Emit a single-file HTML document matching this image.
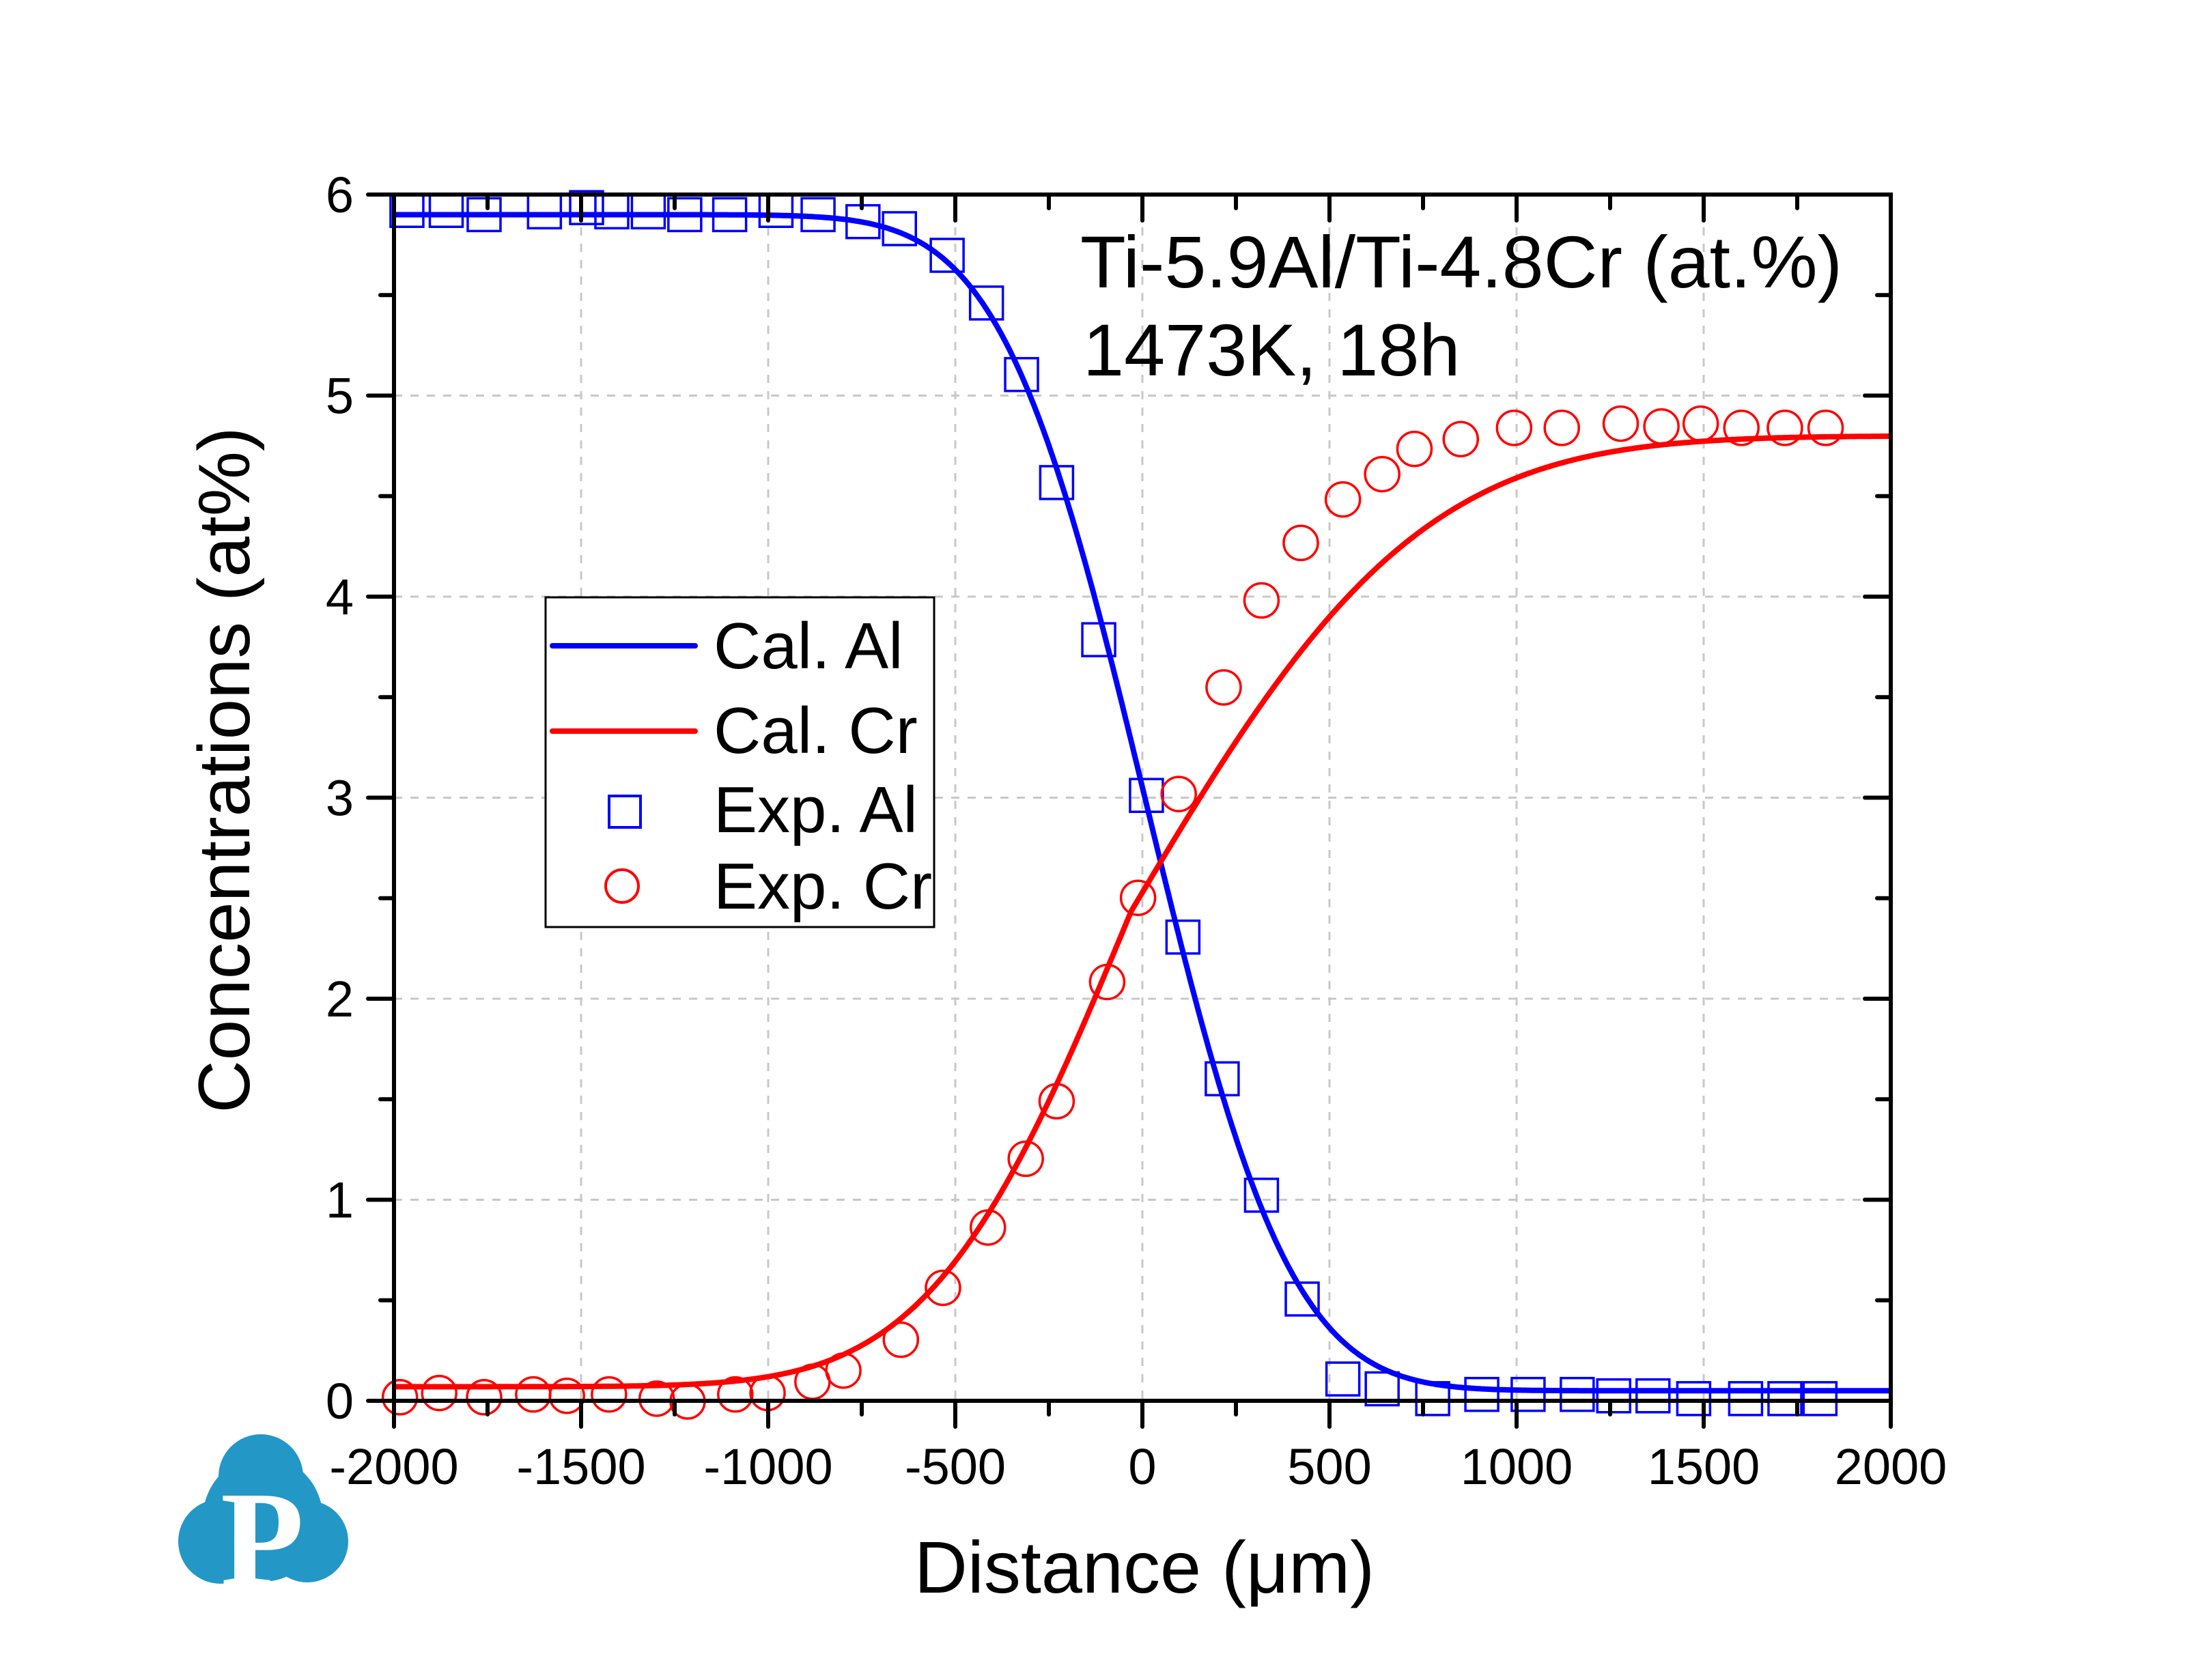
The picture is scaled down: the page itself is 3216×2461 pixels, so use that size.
<!DOCTYPE html>
<html><head><meta charset="utf-8"><style>
html,body{margin:0;padding:0;background:#fff;width:3216px;height:2461px;overflow:hidden}
svg{display:block}
text{font-family:"Liberation Sans",Arial,sans-serif;fill:#000}
</style></head><body>
<svg id="s" width="3216" height="2461" viewBox="0 0 3216 2461" xmlns="http://www.w3.org/2000/svg">
<g id="grid" stroke="#c8c8c8" stroke-width="3" stroke-dasharray="12,12"></g>
<g id="curves" fill="none" stroke-width="8" stroke-linejoin="round"></g>
<g id="pts" fill="none"></g>
<g id="axes" stroke="#000" stroke-width="6" stroke-linecap="round"></g>
<g id="labels" font-size="74"></g>
<text x="1676" y="2333" font-size="108" text-anchor="middle">Distance (μm)</text>
<text transform="translate(365,1128) rotate(-90)" font-size="107" text-anchor="middle">Concentrations (at%)</text>
<text x="1582" y="421" font-size="108" textLength="1116" lengthAdjust="spacingAndGlyphs">Ti-5.9Al/Ti-4.8Cr (at.%)</text>
<text x="1586" y="550" font-size="108">1473K, 18h</text>
<rect x="799" y="875" width="569" height="483" fill="#fff" stroke="#000" stroke-width="3"/>
<line x1="809" y1="946" x2="1018" y2="946" stroke="#0000ff" stroke-width="8" stroke-linecap="round"/>
<line x1="809" y1="1071" x2="1018" y2="1071" stroke="#ff0000" stroke-width="8" stroke-linecap="round"/>
<rect x="892" y="1166" width="46" height="46" fill="none" stroke="#0000ff" stroke-width="4"/>
<circle cx="911" cy="1298" r="24" fill="none" stroke="#ff0000" stroke-width="4"/>
<g font-size="96">
<text x="1045" y="979">Cal. Al</text>
<text x="1045" y="1103">Cal. Cr</text>
<text x="1045" y="1219">Exp. Al</text>
<text x="1045" y="1331">Exp. Cr</text>
</g>
<g fill="#2398c6">
<circle cx="382" cy="2163" r="62"/>
<circle cx="323" cy="2258" r="62"/>
<circle cx="450" cy="2258" r="60"/>
<ellipse cx="385" cy="2225" rx="88" ry="92"/>
</g>
<text x="384" y="2322" font-size="200" text-anchor="middle" font-weight="bold" style="font-family:'Liberation Serif',serif;fill:#fff">P</text>
</svg>
<script>
const NS="http://www.w3.org/2000/svg";
const X0=577,X1=2769,Y0=2052,Y6=285;
const sx=v=>X0+(v+2000)*(X1-X0)/4000, sy=v=>Y0-v*(Y0-Y6)/6;
function el(p,t,a){const e=document.createElementNS(NS,t);for(const k in a)e.setAttribute(k,a[k]);document.getElementById(p).appendChild(e);return e;}
function erf(x){const s=x<0?-1:1;x=Math.abs(x);const t=1/(1+0.3275911*x);const y=1-(((((1.061405429*t-1.453152027)*t)+1.421413741)*t-0.284496736)*t+0.254829592)*t*Math.exp(-x*x);return s*y;}
for(let v=-1500;v<=1500;v+=500)el("grid","line",{x1:sx(v),y1:Y6,x2:sx(v),y2:Y0});
for(let v=1;v<=5;v++)el("grid","line",{x1:X0,y1:sy(v),x2:X1,y2:sy(v)});
let a=[],c=[];
for(let x=-2000;x<=2000;x+=5){
 const al=0.05+5.85*0.5*(1-erf((x-10)/430));
 const w=x<-30?595:855;
 const cr=0.07+4.73*0.5*(1+erf((x+30)/w));
 a.push(sx(x).toFixed(1)+","+sy(al).toFixed(1));c.push(sx(x).toFixed(1)+","+sy(cr).toFixed(1));}
el("curves","polyline",{points:a.join(" "),stroke:"#0000ff"});
el("curves","polyline",{points:c.join(" "),stroke:"#ff0000"});
const k=2.055;
const sq=[[290,150],[318,150],[345,153],[388,151],[418,148],[436,151],[462,151],[488,153],[520,153],[553,150],[583,153],[615,158],[641,163],[675,182],[703,216],[728,267],[753,344],[783,456],[817,567],[843,668],[871,769],[899,852],[928,926],[957,983],[985,990],[1021,997],[1056,994],[1089,994],[1124,994],[1150,995],[1178,995],[1207,997],[1244,997],[1272,997],[1297,997]];
const ci=[[285,996],[313,993],[345,996],[380,994],[404,995],[434,994],[468,997],[490,999],[524,994],[547,993],[579,985],[601,977],[642,955],[672,918],[704,875],[731,826],[753,785],[789,700],[811,640],[840,566],[872,490],[899,428],[927,387],[957,356],[985,338],[1008,320],[1041,313],[1079,305],[1113,305],[1155,302],[1184,304],[1212,302],[1241,305],[1272,305],[1301,305]];
sq.forEach(p=>el("pts","rect",{x:p[0]*k-24,y:p[1]*k-24,width:48,height:48,stroke:"#0000ff","stroke-width":3.5}));
ci.forEach(p=>el("pts","circle",{cx:p[0]*k,cy:p[1]*k,r:25,stroke:"#ff0000","stroke-width":3.5}));
el("axes","rect",{x:X0,y:Y6,width:X1-X0,height:Y0-Y6,fill:"none","stroke-linecap":"butt"});
for(let v=-2000;v<=2000;v+=250){const maj=v%500==0;const x=sx(v);
 el("axes","line",{x1:x,y1:Y0,x2:x,y2:Y0+(maj?38:20)});
 el("axes","line",{x1:x,y1:Y6,x2:x,y2:Y6+(maj?38:20)});
 if(maj){const t=el("labels","text",{x:x,y:Y0+122,"text-anchor":"middle"});t.textContent=v;}}
for(let v=0;v<=6;v+=0.5){const maj=v%1==0;const y=sy(v);
 el("axes","line",{x1:X0,y1:y,x2:X0-(maj?38:20),y2:y});
 el("axes","line",{x1:X1,y1:y,x2:X1-(maj?38:20),y2:y});
 if(maj){const t=el("labels","text",{x:518,y:y+26,"text-anchor":"end"});t.textContent=v;}}
</script>
</body></html>
